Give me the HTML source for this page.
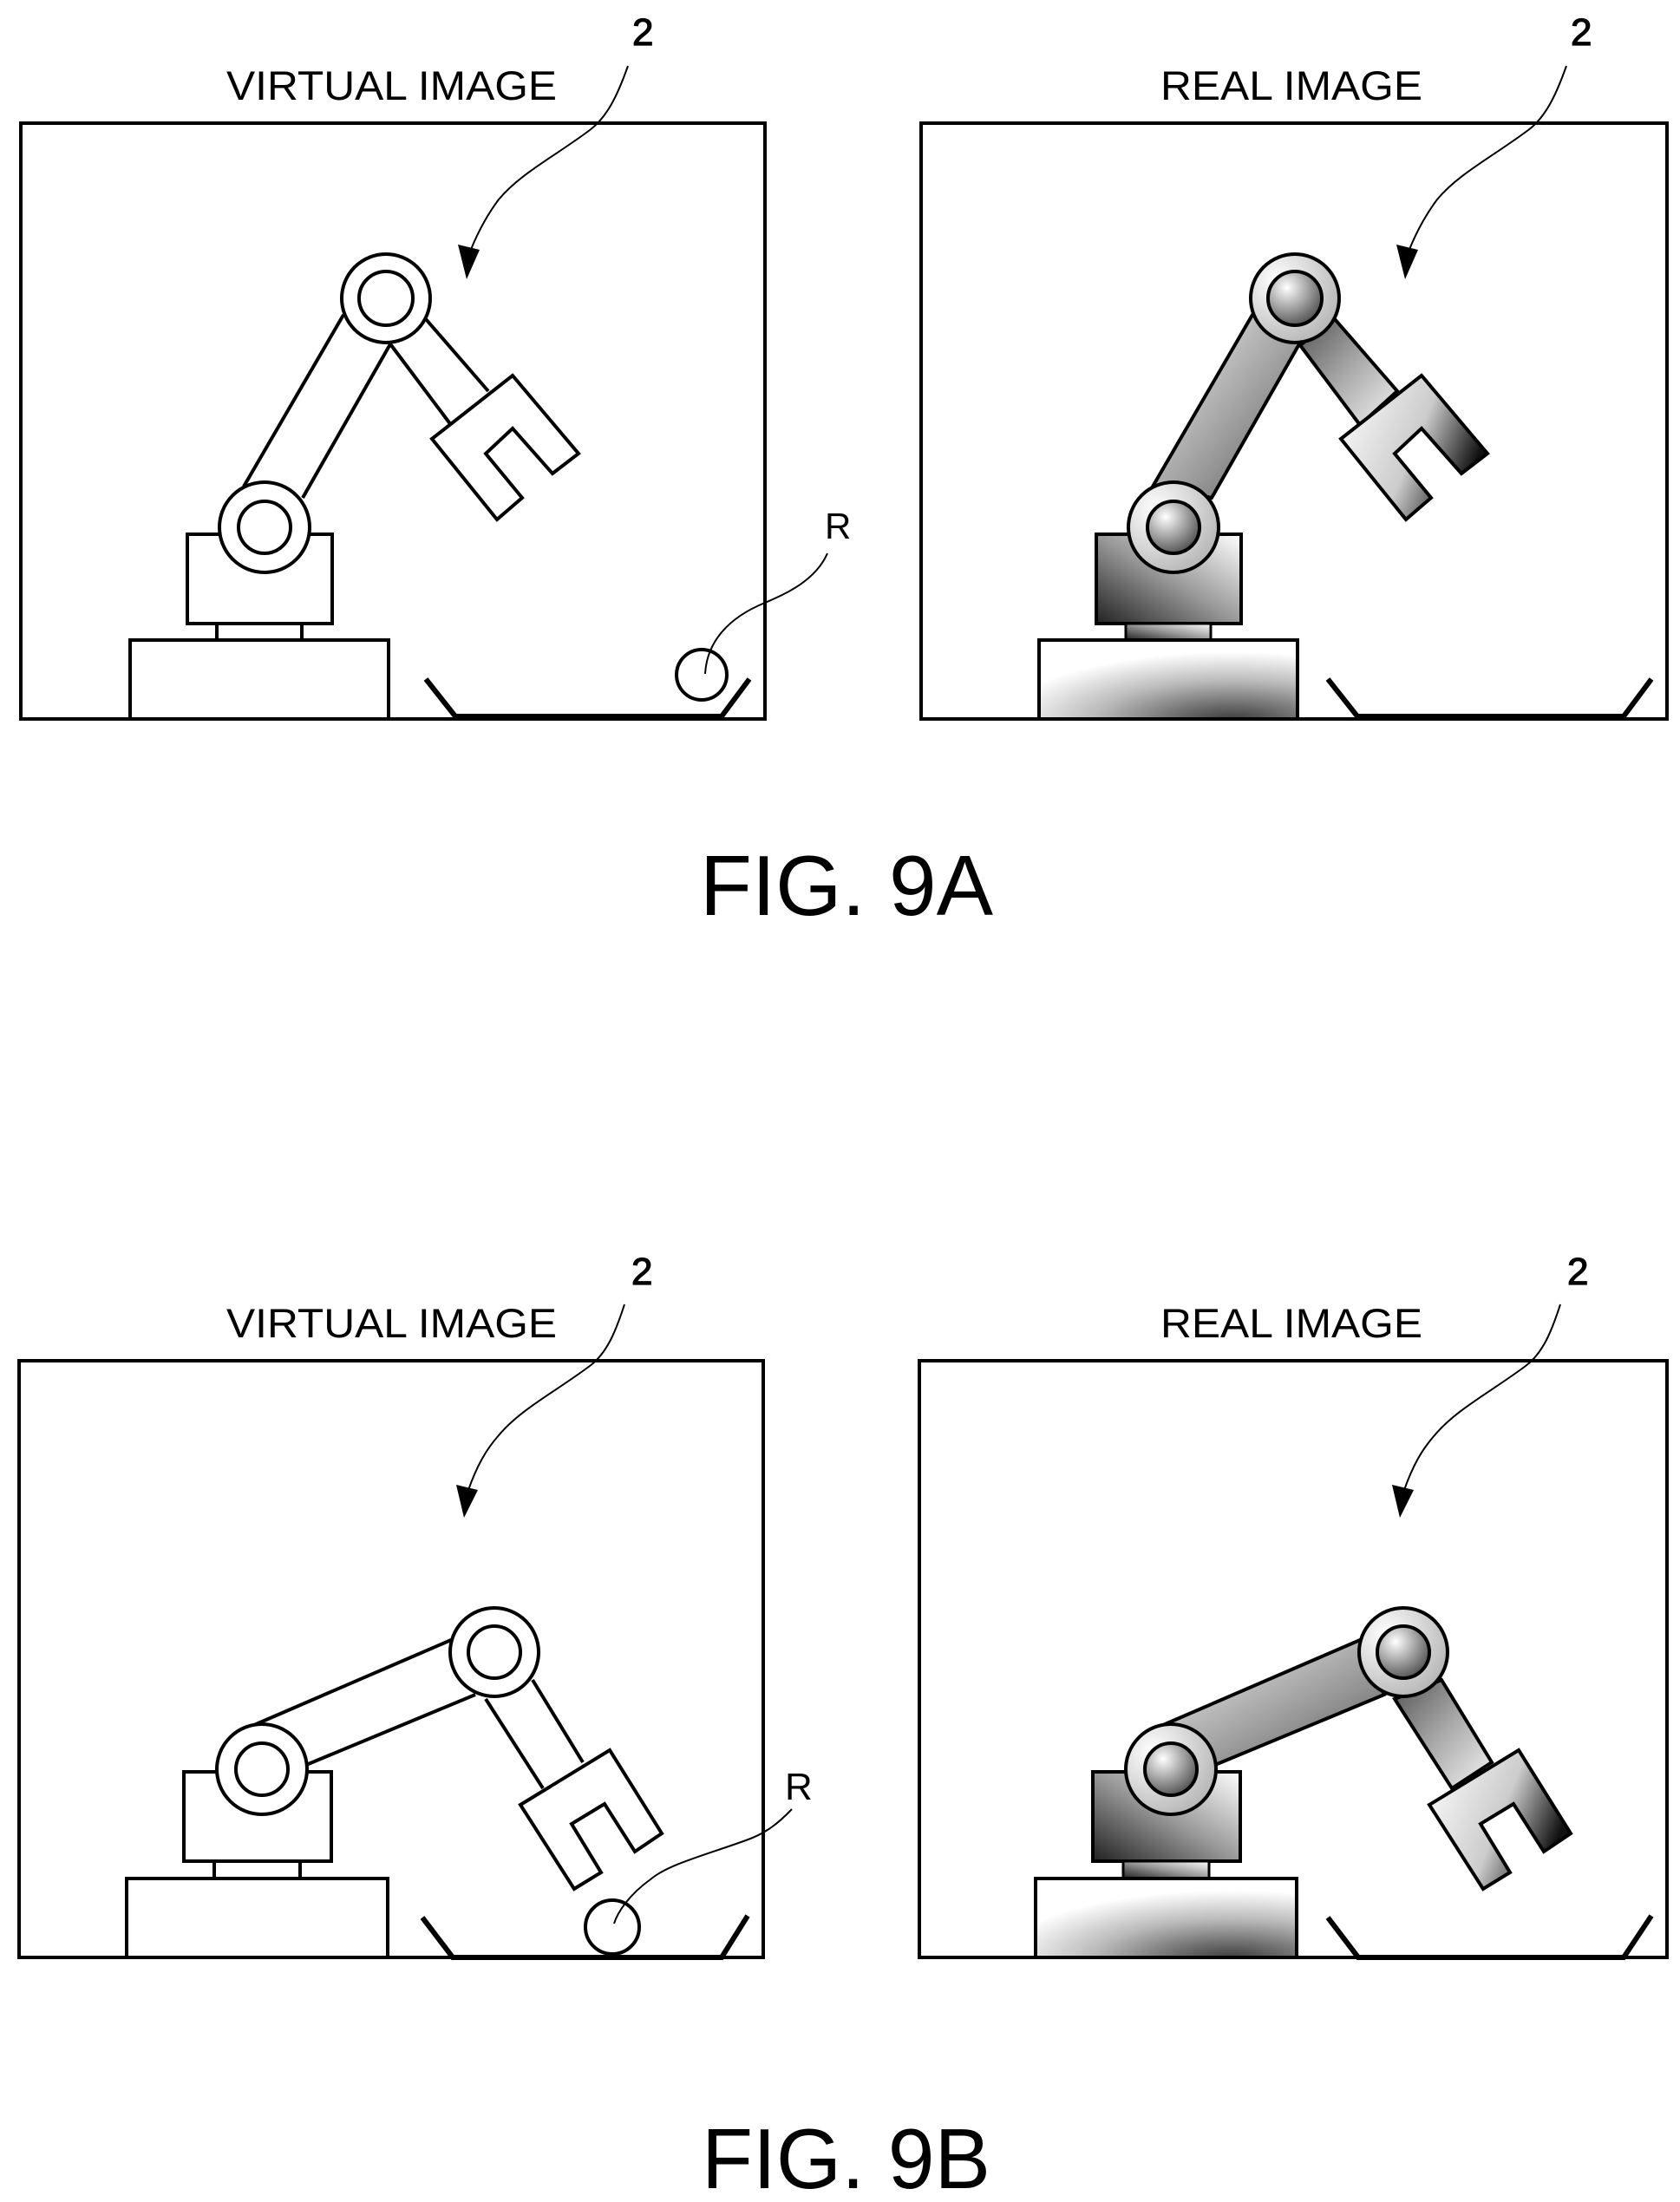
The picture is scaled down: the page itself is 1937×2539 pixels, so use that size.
<!DOCTYPE html>
<html><head><meta charset="utf-8"><style>
html,body{margin:0;padding:0;background:#fff;}
svg{display:block;}
text{font-family:"Liberation Sans",sans-serif;fill:#000;}
</style></head><body>
<svg width="1937" height="2539" viewBox="0 0 1937 2539" xmlns="http://www.w3.org/2000/svg">
<defs>
<linearGradient id="arm" x1="0" y1="0" x2="1" y2="1">
<stop offset="0" stop-color="#f4f4f4"/><stop offset="0.6" stop-color="#999"/><stop offset="1" stop-color="#555"/></linearGradient>
<linearGradient id="fore" x1="0" y1="0" x2="1" y2="1">
<stop offset="0" stop-color="#555"/><stop offset="0.5" stop-color="#aaa"/><stop offset="1" stop-color="#f4f4f4"/></linearGradient>
<linearGradient id="grip" x1="0" y1="0" x2="1" y2="0.4">
<stop offset="0" stop-color="#fff"/><stop offset="0.6" stop-color="#ccc"/><stop offset="1" stop-color="#111"/></linearGradient>
<linearGradient id="box" x1="1" y1="0" x2="0" y2="1">
<stop offset="0" stop-color="#fff"/><stop offset="0.5" stop-color="#999"/><stop offset="1" stop-color="#222"/></linearGradient>
<radialGradient id="base" cx="0.75" cy="1.05" r="0.9">
<stop offset="0" stop-color="#333"/><stop offset="0.6" stop-color="#bbb"/><stop offset="1" stop-color="#fff"/></radialGradient>
<radialGradient id="ball" cx="0.35" cy="0.3" r="0.8">
<stop offset="0" stop-color="#fff"/><stop offset="1" stop-color="#444"/></radialGradient>
<radialGradient id="ring" cx="0.3" cy="0.3" r="0.9">
<stop offset="0" stop-color="#fff"/><stop offset="1" stop-color="#aaa"/></radialGradient>
</defs>

<g fill="none" stroke="#000" stroke-width="4">
<rect x="24" y="142" width="858" height="687" fill="#fff"/>
<rect x="1062" y="142" width="860" height="687" fill="#fff"/>

<g>
<rect x="216" y="616" width="167" height="103" fill="#fff"/>
<line x1="250" y1="719" x2="250" y2="738"/><line x1="348" y1="719" x2="348" y2="738"/>
<rect x="150" y="738" width="298" height="91" fill="#fff"/>
<line x1="281" y1="561" x2="396" y2="363"/><line x1="349" y1="574" x2="451" y2="395"/>
<line x1="491" y1="368" x2="563" y2="451"/><line x1="451" y1="398" x2="520" y2="490"/>
<polygon points="498,506 591,433 667,523 637,546 591,494 560,523 602,574 573,599" fill="#fff"/>
<circle cx="445" cy="344" r="51" fill="#fff"/><circle cx="445" cy="344" r="31"/>
<circle cx="305" cy="608" r="52" fill="#fff"/><circle cx="305" cy="608" r="30"/>
</g>
<polyline points="491,783 525,826 832,826 864,783" stroke-width="6"/>
<circle cx="809" cy="778" r="29"/>
<path d="M954,638 C940,670 905,685 882,695 C840,712 815,740 813,777" stroke-width="2"/>

<g transform="translate(1048,0)">
<rect x="216" y="616" width="167" height="103" fill="url(#box)"/>
<rect x="250" y="719" width="98" height="19" fill="url(#box)" stroke-width="3"/>
<rect x="150" y="738" width="298" height="91" fill="url(#base)"/>
<polygon points="281,561 396,363 451,395 349,574" fill="url(#arm)"/>
<polygon points="491,368 563,451 520,490 451,398" fill="url(#fore)"/>
<polygon points="498,506 591,433 667,523 637,546 591,494 560,523 602,574 573,599" fill="url(#grip)"/>
<circle cx="445" cy="344" r="51" fill="url(#ring)"/><circle cx="445" cy="344" r="31" fill="url(#ball)"/>
<circle cx="305" cy="608" r="52" fill="url(#ring)"/><circle cx="305" cy="608" r="30" fill="url(#ball)"/>
</g>
<polyline points="1531,783 1565,826 1872,826 1904,783" stroke-width="6"/>

<path d="M724,76 C712,110 700,135 680,150 C640,180 600,200 575,230 C560,250 550,270 542,290" stroke-width="2"/>
<polygon points="528,282 553,288 538,322" fill="#000" stroke="none"/>
<g transform="translate(1082,0)">
<path d="M724,76 C712,110 700,135 680,150 C640,180 600,200 575,230 C560,250 550,270 542,290" stroke-width="2"/>
<polygon points="528,282 553,288 538,322" fill="#000" stroke="none"/>
</g>

<rect x="22" y="1569" width="858" height="688" fill="#fff"/>
<rect x="1060" y="1569" width="862" height="688" fill="#fff"/>

<g>
<rect x="212" y="2043" width="170" height="103" fill="#fff"/>
<line x1="247" y1="2146" x2="247" y2="2166"/><line x1="346" y1="2146" x2="346" y2="2166"/>
<rect x="146" y="2166" width="301" height="91" fill="#fff"/>
<line x1="293" y1="1989" x2="520" y2="1891"/><line x1="353" y1="2035" x2="548" y2="1954"/>
<line x1="560" y1="1959" x2="626" y2="2062"/><line x1="614" y1="1937" x2="672" y2="2032"/>
<polygon points="600,2081 703,2018 763,2114 732,2135 697,2080 659,2103 693,2159 662,2178" fill="#fff"/>
<circle cx="570" cy="1905" r="51" fill="#fff"/><circle cx="570" cy="1905" r="30"/>
<circle cx="302" cy="2040" r="52" fill="#fff"/><circle cx="302" cy="2040" r="30"/>
</g>
<polyline points="487,2211 522,2257 832,2257 862,2209" stroke-width="6"/>
<circle cx="706" cy="2222" r="31"/>
<path d="M913,2086 C895,2105 880,2115 860,2122 C810,2140 770,2150 750,2167 C725,2185 712,2205 708,2218" stroke-width="2"/>

<g transform="translate(1048,0)">
<rect x="212" y="2043" width="170" height="103" fill="url(#box)"/>
<rect x="247" y="2146" width="99" height="20" fill="url(#box)" stroke-width="3"/>
<rect x="146" y="2166" width="301" height="91" fill="url(#base)"/>
<polygon points="293,1989 520,1891 548,1954 353,2035" fill="url(#arm)"/>
<polygon points="560,1959 614,1937 672,2032 626,2062" fill="url(#fore)"/>
<polygon points="600,2081 703,2018 763,2114 732,2135 697,2080 659,2103 693,2159 662,2178" fill="url(#grip)"/>
<circle cx="570" cy="1905" r="51" fill="url(#ring)"/><circle cx="570" cy="1905" r="30" fill="url(#ball)"/>
<circle cx="302" cy="2040" r="52" fill="url(#ring)"/><circle cx="302" cy="2040" r="30" fill="url(#ball)"/>
</g>
<polyline points="1531,2211 1566,2257 1872,2257 1904,2209" stroke-width="6"/>

<path d="M720,1504 C710,1535 700,1560 680,1575 C640,1605 600,1625 575,1655 C560,1672 550,1690 540,1718" stroke-width="2"/>
<polygon points="526,1712 551,1718 535,1750" fill="#000" stroke="none"/>
<g transform="translate(1079,0)">
<path d="M720,1504 C710,1535 700,1560 680,1575 C640,1605 600,1625 575,1655 C560,1672 550,1690 540,1718" stroke-width="2"/>
<polygon points="526,1712 551,1718 535,1750" fill="#000" stroke="none"/>
</g>
</g>

<text x="261" y="115" font-size="47" textLength="381" lengthAdjust="spacingAndGlyphs">VIRTUAL IMAGE</text>
<text x="1338" y="115" font-size="47" textLength="302" lengthAdjust="spacingAndGlyphs">REAL IMAGE</text>
<text x="729" y="52" font-size="44" stroke="#000" stroke-width="1.2">2</text>
<text x="1811" y="52" font-size="44" stroke="#000" stroke-width="1.2">2</text>
<text x="951" y="621" font-size="42">R</text>
<text x="807" y="1055" font-size="98" textLength="338" lengthAdjust="spacingAndGlyphs">FIG. 9A</text>

<text x="261" y="1542" font-size="47" textLength="381" lengthAdjust="spacingAndGlyphs">VIRTUAL IMAGE</text>
<text x="1338" y="1542" font-size="47" textLength="302" lengthAdjust="spacingAndGlyphs">REAL IMAGE</text>
<text x="728" y="1481" font-size="44" stroke="#000" stroke-width="1.2">2</text>
<text x="1807" y="1481" font-size="44" stroke="#000" stroke-width="1.2">2</text>
<text x="905" y="2075" font-size="44">R</text>
<text x="809" y="2523" font-size="98" textLength="333" lengthAdjust="spacingAndGlyphs">FIG. 9B</text>
</svg>
</body></html>
